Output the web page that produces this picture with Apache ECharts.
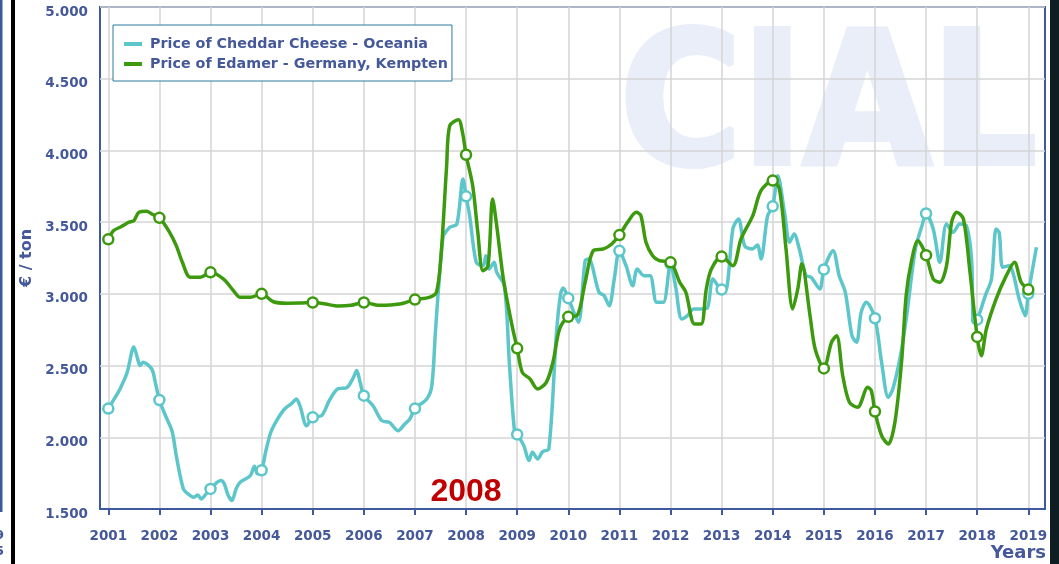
<!DOCTYPE html>
<html>
<head>
<meta charset="utf-8">
<script src="https://cdn.jsdelivr.net/npm/echarts@6/dist/echarts.min.js"></script>
<style>
  html, body { margin: 0; padding: 0; background: #fff; }
  #chart { width: 1059px; height: 564px; }
</style>
</head>
<body>
<div id="chart"></div>
<script>
  // year ticks on the x axis
  const yearTicks = [2001, 2002, 2003, 2004, 2005, 2006, 2007, 2008, 2009, 2010,
    2011, 2012, 2013, 2014, 2015, 2016, 2017, 2018, 2019];

  // Price of Cheddar Cheese - Oceania (€/ton)
  const cheddarX = [2001.0, 2001.12, 2001.23, 2001.37, 2001.5, 2001.58, 2001.62, 2001.68, 2001.85, 2001.92,
    2002.0, 2002.12, 2002.25, 2002.33, 2002.47, 2002.58, 2002.67, 2002.75, 2002.82, 2002.9,
    2003.0, 2003.2, 2003.27, 2003.34, 2003.42, 2003.5, 2003.58, 2003.78, 2003.86, 2003.92,
    2004.0, 2004.08, 2004.18, 2004.3, 2004.45, 2004.6, 2004.68, 2004.75, 2004.88,
    2005.0, 2005.17, 2005.33, 2005.5, 2005.66, 2005.8, 2005.86, 2005.93,
    2006.0, 2006.18, 2006.35, 2006.5, 2006.67, 2006.8, 2006.9,
    2007.0, 2007.23, 2007.33, 2007.4, 2007.46, 2007.55, 2007.6, 2007.68, 2007.82, 2007.94,
    2008.0, 2008.07, 2008.2, 2008.33, 2008.39, 2008.45, 2008.55, 2008.6, 2008.75, 2008.85, 2008.95,
    2009.0, 2009.13, 2009.23, 2009.3, 2009.4, 2009.5, 2009.62, 2009.77, 2009.85, 2009.9,
    2010.0, 2010.1, 2010.2, 2010.33, 2010.4, 2010.6, 2010.7, 2010.8, 2010.9,
    2011.0, 2011.13, 2011.26, 2011.35, 2011.48, 2011.6, 2011.73, 2011.86,
    2012.0, 2012.1, 2012.22, 2012.33, 2012.45, 2012.6, 2012.72, 2012.83,
    2013.0, 2013.1, 2013.22, 2013.33, 2013.45, 2013.6, 2013.7, 2013.77, 2013.9,
    2014.0, 2014.1, 2014.23, 2014.33, 2014.42, 2014.52, 2014.65, 2014.75, 2014.92,
    2015.0, 2015.18, 2015.3, 2015.42, 2015.55, 2015.64, 2015.73, 2015.83,
    2016.0, 2016.13, 2016.26, 2016.35, 2016.5, 2016.62, 2016.79, 2016.92,
    2017.0, 2017.14, 2017.27, 2017.4, 2017.53, 2017.66, 2017.79, 2017.89, 2017.93,
    2018.0, 2018.16, 2018.28, 2018.37, 2018.43, 2018.5, 2018.62, 2018.84, 2018.94,
    2019.0, 2019.16];
  const cheddarY = [2200, 2270, 2337, 2453, 2630, 2540, 2500, 2523, 2476, 2383,
    2260, 2150, 2040, 1872, 1640, 1600, 1582, 1598, 1570, 1600,
    1640, 1698, 1675, 1600, 1559, 1640, 1686, 1733, 1798, 1745,
    1770, 1900, 2035, 2120, 2197, 2240, 2267, 2220, 2081,
    2140, 2150, 2260, 2340, 2345, 2420, 2466, 2380,
    2290, 2220, 2116, 2104, 2046, 2093, 2127,
    2200, 2267, 2360, 2732, 3034, 3400, 3429, 3464, 3487, 3801,
    3680, 3545, 3220, 3196, 3266, 3173, 3220, 3150, 3057, 2500, 2035,
    2020, 1942, 1838, 1896, 1849, 1900, 1919, 2732, 3000, 3040,
    2970, 2880, 2802, 3231, 3243, 3011, 2988, 2917, 3104,
    3300, 3196, 3057, 3173, 3127, 3127, 2941, 2941,
    3210, 3050, 2825, 2848, 2895, 2895, 2900, 3104,
    3030, 3040, 3452, 3522, 3336, 3313, 3340, 3243, 3545,
    3610, 3824, 3569, 3360, 3417, 3313, 3127, 3116, 3034,
    3170, 3301, 3127, 3011, 2708, 2662, 2871, 2941,
    2830, 2523, 2279, 2337, 2569, 2848, 3313, 3475,
    3560, 3452, 3220, 3487, 3429, 3487, 3475, 3243, 2802,
    2820, 2988, 3104, 3452, 3429, 3185, 3196, 2941, 2848,
    3000, 3325];

  // Price of Edamer - Germany, Kempten (€/ton)
  const edamerX = [2001.0, 2001.1, 2001.25, 2001.4, 2001.5, 2001.6, 2001.75, 2001.85,
    2002.0, 2002.2, 2002.33, 2002.45, 2002.6, 2002.8,
    2003.0, 2003.25, 2003.45, 2003.58, 2003.78,
    2004.0, 2004.23, 2004.5, 2004.75,
    2005.0, 2005.25, 2005.5, 2005.75,
    2006.0, 2006.3, 2006.7,
    2007.0, 2007.28, 2007.42, 2007.51, 2007.62, 2007.68, 2007.85, 2007.93,
    2008.0, 2008.13, 2008.23, 2008.33, 2008.43, 2008.52, 2008.6, 2008.73, 2008.9,
    2009.0, 2009.1, 2009.25, 2009.4, 2009.57, 2009.7, 2009.83,
    2010.0, 2010.17, 2010.33, 2010.49, 2010.69, 2010.85,
    2011.0, 2011.16, 2011.33, 2011.42, 2011.52, 2011.65, 2011.78,
    2012.0, 2012.18, 2012.3, 2012.47, 2012.6, 2012.7, 2012.8,
    2013.0, 2013.22, 2013.38, 2013.61, 2013.77,
    2014.0, 2014.13, 2014.26, 2014.39, 2014.49, 2014.57, 2014.73, 2014.83,
    2015.0, 2015.15, 2015.25, 2015.37, 2015.5, 2015.66, 2015.86, 2015.93,
    2016.0, 2016.13, 2016.26, 2016.39, 2016.52, 2016.61, 2016.71, 2016.84,
    2017.0, 2017.14, 2017.27, 2017.4, 2017.5, 2017.6, 2017.73, 2017.86,
    2018.0, 2018.08, 2018.18, 2018.37, 2018.57, 2018.73, 2018.86,
    2019.0];
  const edamerY = [3380, 3440, 3468, 3499, 3510, 3569, 3576, 3557,
    3530, 3429, 3336, 3220, 3116, 3116,
    3150, 3104, 3022, 2976, 2976,
    3000, 2945, 2935, 2936,
    2940, 2929, 2915, 2920,
    2940, 2920, 2929,
    2960, 2976, 3011, 3266, 3893, 4172, 4214, 4126,
    3970, 3754, 3429, 3161, 3196, 3661, 3475, 3104, 2778,
    2620, 2453, 2407, 2337, 2383, 2523, 2755,
    2840, 2848, 3081, 3301, 3313, 3348,
    3410, 3499, 3569, 3545, 3360, 3266, 3231,
    3220, 3081, 3011, 2790, 2790, 3034, 3173,
    3260, 3196, 3383, 3545, 3719,
    3790, 3731, 3313, 2895, 3034, 3210, 2848, 2616,
    2480, 2662, 2708, 2429, 2244, 2209, 2348, 2325,
    2180, 2012, 1953, 2104, 2523, 2988, 3220, 3371,
    3270, 3104, 3081, 3196, 3499, 3569, 3522, 3150,
    2700, 2569, 2755, 2964, 3127, 3220, 3081,
    3030];

  const cheddarColor = '#5cc6ca';
  const edamerColor = '#3d9a0f';
  const axisBlue = '#3d5a9e';
  const textBlue = '#44589a';

  const zip = (xs, ys) => xs.map((x, i) => [x, ys[i]]);
  // markers only at the start of each year
  const yearSymbol = (value) => Number.isInteger(value[0]) ? 'circle' : 'none';

  const chart = echarts.init(document.getElementById('chart'));

  const option = {
    animation: false,
    textStyle: { fontFamily: 'DejaVu Sans' },
    grid: {
      left: 100, top: 7, width: 945, height: 502,
      show: true, borderColor: axisBlue, borderWidth: 2, backgroundColor: 'transparent'
    },
    legend: {
      orient: 'vertical',
      left: 113, top: 25,
      padding: [12, 4, 10, 11],
      itemGap: 6,
      itemWidth: 18, itemHeight: 4,
      icon: 'rect',
      borderColor: '#2b7ba3', borderWidth: 1,
      backgroundColor: '#fff',
      textStyle: { color: textBlue, fontSize: 14.3, fontWeight: 'bold', fontFamily: 'DejaVu Sans', padding: [0, 0, 0, 3] },
      data: [
        { name: 'Price of Cheddar Cheese - Oceania', itemStyle: { color: cheddarColor, borderWidth: 0 } },
        { name: 'Price of Edamer - Germany, Kempten', itemStyle: { color: edamerColor, borderWidth: 0 } }
      ]
    },
    xAxis: {
      type: 'value',
      min: 2000.838, max: 2019.327,
      axisLine: { lineStyle: { color: axisBlue, width: 2 } },
      axisTick: { show: true, customValues: yearTicks, length: 6, lineStyle: { color: axisBlue, width: 2 } },
      axisLabel: {
        customValues: yearTicks, margin: 20,
        color: textBlue, fontSize: 13.5, fontWeight: 'bold',
        formatter: (v) => String(v)
      },
      splitLine: { show: true, lineStyle: { color: '#d4d4d4', width: 1.5 } }
    },
    yAxis: {
      type: 'value',
      min: 1500, max: 5000, interval: 500,
      name: '€ / ton',
      nameLocation: 'middle', nameRotate: 90, nameGap: 62,
      nameTextStyle: { color: textBlue, fontSize: 16, fontWeight: 'bold' },
      axisLine: { show: false },
      axisTick: { show: false },
      axisLabel: {
        margin: 12, color: textBlue, fontSize: 13.5, fontWeight: 'bold',
        verticalAlign: 'top', lineHeight: 10,
        formatter: (v) => (v / 1000).toFixed(3)
      },
      splitLine: { lineStyle: { color: '#d4d4d4', width: 1.5 } }
    },
    series: [
      {
        name: 'Price of Cheddar Cheese - Oceania',
        type: 'line',
        data: zip(cheddarX, cheddarY),
        smooth: 0.3,
        showSymbol: true, showAllSymbol: true,
        symbol: yearSymbol, symbolSize: 10,
        lineStyle: { color: cheddarColor, width: 3.5 },
        itemStyle: { color: '#fff', borderColor: cheddarColor, borderWidth: 2.5 },
        z: 3
      },
      {
        name: 'Price of Edamer - Germany, Kempten',
        type: 'line',
        data: zip(edamerX, edamerY),
        smooth: 0.3,
        showSymbol: true, showAllSymbol: true,
        symbol: yearSymbol, symbolSize: 10,
        lineStyle: { color: edamerColor, width: 3.5 },
        itemStyle: { color: '#fff', borderColor: edamerColor, borderWidth: 2.5 },
        z: 4
      }
    ],
    graphic: [
      {
        type: 'text', z: -10, silent: true,
        x: 620, y: 115, scaleX: 0.9, originX: 0,
        style: {
          text: 'CIAL', fill: '#e9eef9', stroke: '#e9eef9', lineWidth: 6, lineJoin: 'round',
          font: 'bold 184px "DejaVu Sans"', verticalAlign: 'middle'
        }
      },
      {
        type: 'text', x: 466, y: 492,
        style: {
          text: '2008', fill: '#c00000', font: 'bold 32px "Liberation Sans"',
          align: 'center', verticalAlign: 'middle'
        }
      },
      {
        type: 'text', x: 1046, y: 553,
        style: {
          text: 'Years', fill: textBlue, font: 'bold 18px "DejaVu Sans"',
          align: 'right', verticalAlign: 'middle'
        }
      },
      { type: 'rect', shape: { x: 0, y: 0, width: 2.5, height: 512 }, style: { fill: axisBlue } },
      { type: 'rect', shape: { x: 11, y: 0, width: 4, height: 564 }, style: { fill: '#000' } },
      { type: 'rect', shape: { x: 1050, y: 0, width: 9, height: 564 }, style: { fill: '#0e1e22' } },
      { type: 'text', x: -5, y: 536, style: { text: '9', fill: textBlue, font: 'bold 13px "DejaVu Sans"', verticalAlign: 'middle' } },
      { type: 'text', x: -5, y: 552, style: { text: '5', fill: textBlue, font: 'bold 13px "DejaVu Sans"', verticalAlign: 'middle' } }
    ]
  };

  chart.setOption(option);
</script>
</body>
</html>
